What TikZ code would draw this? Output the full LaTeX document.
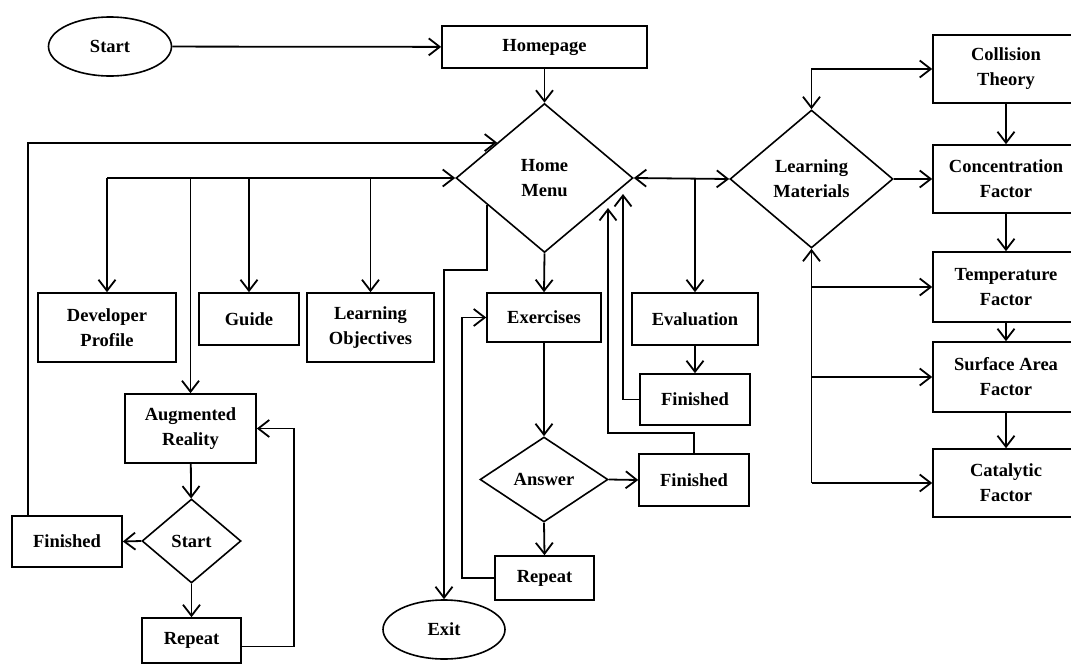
\documentclass[tikz,border=0pt]{standalone}
\usepackage{fontspec}
\setmainfont{Liberation Serif}
\usetikzlibrary{shapes.geometric,arrows.meta,calc}
\begin{document}
\begin{tikzpicture}[x=1pt,y=-1pt,
  every node/.style={font=\fontsize{18.5}{25}\selectfont\bfseries, align=center, inner sep=0pt},
  shp/.style={draw, line width=1.6pt},
  box/.style={shp, rectangle},
  dia/.style={shp, diamond},
  oval/.style={shp, ellipse},
  conn/.style={line width=1.8pt},
  arr/.style={conn, -{Straight Barb[length=11pt,width=17pt]}},
  biarr/.style={conn, {Straight Barb[length=11pt,width=17pt]}-{Straight Barb[length=11pt,width=17pt]}}
]
\clip (0,0) rectangle (1071,664);
\fill[white] (0,0) rectangle (1071,664);

% nodes
\node[oval, minimum width=123, minimum height=59] (st) at (110,46.5) {Start};
\node[box, minimum width=205, minimum height=42] (hp) at (544.5,47) {Homepage};
\node[dia, minimum width=177, minimum height=149] (hm) at (544.5,178) {Home\\Menu};
\node[dia, minimum width=163, minimum height=138] (lm) at (811.5,179) {Learning\\Materials};
\node[box, minimum width=138, minimum height=69] (dp) at (107,327.5) {Developer\\Profile};
\node[box, minimum width=100, minimum height=52] (gd) at (249,319) {Guide};
\node[box, minimum width=127, minimum height=69] (lo) at (370.5,327.5) {Learning\\Objectives};
\node[box, minimum width=131, minimum height=69] (ar) at (190.5,428.5) {Augmented\\Reality};
\node[dia, minimum width=99, minimum height=84] (sd) at (191.5,541) {Start};
\node[box, minimum width=110, minimum height=51] (f1) at (67,541.5) {Finished};
\node[box, minimum width=99, minimum height=45] (r1) at (191.5,640.5) {Repeat};
\node[oval, minimum width=122, minimum height=59] (exit) at (444,629.5) {Exit};
\node[box, minimum width=114, minimum height=49] (ex) at (544,317.5) {Exercises};
\node[dia, minimum width=128, minimum height=85] (an) at (544,479.5) {Answer};
\node[box, minimum width=99, minimum height=44] (r2) at (544.5,578) {Repeat};
\node[box, minimum width=110, minimum height=52] (f3) at (694,480) {Finished};
\node[box, minimum width=126, minimum height=52] (ev) at (695,319) {Evaluation};
\node[box, minimum width=110, minimum height=51] (f2) at (695,399.5) {Finished};
\node[box, minimum width=146, minimum height=68] (ct) at (1006,69) {Collision\\Theory};
\node[box, minimum width=146, minimum height=68] (cf) at (1006,179) {Concentration\\Factor};
\node[box, minimum width=146, minimum height=70] (tf) at (1006,287) {Temperature\\Factor};
\node[box, minimum width=146, minimum height=70] (sf) at (1006,377) {Surface Area\\Factor};
\node[box, minimum width=146, minimum height=68] (caf) at (1006,483) {Catalytic\\Factor};

% helper coordinates
\coordinate (hmp) at ($(hm.west)!0.47!(hm.north)$);
\coordinate (hmx) at ($(hm.west)!0.36!(hm.south)$);
\coordinate (hmin1) at (608,208);
\coordinate (hmin2) at (623,194);
\coordinate (f1up) at ($(f1.north west)+(17,0)$);
\coordinate (r1e) at ($(r1.east)+(0,6)$);

% connectors
\draw[arr] (st) -- (hp);
\draw[arr] (hp) -- (hm);
\draw[arr] (dp.north |- hm.west) -- (hm.west);
\draw[arr] (dp.north |- hm.west) -- (dp.north);
\draw[arr] (ar.north |- hm.west) -- (ar.north);
\draw[arr] (gd.north |- hm.west) -- (gd.north);
\draw[arr] (lo.north |- hm.west) -- (lo.north);
\draw[arr] (f1up) |- (hmp);
\draw[arr] (ar) -- (sd);
\draw[arr] (sd.west) -- (f1.east);
\draw[arr] (sd.south) -- (r1.north);
\draw[arr] (r1e) -- ++(52,0) |- (ar.east);
\draw[arr] (hmx) -- ++(0,65) -| (exit.north);
\draw[arr] (hm.south) -- (ex.north);
\draw[arr] (ex.south) -- (an.north);
\draw[arr] (an.east) -- (f3.west);
\draw[arr] (an.south) -- (r2.north);
\draw[arr] (r2.west) -- ++(-32,0) |- (ex.west);
\draw[arr] (f3.north) -- ++(0,-20) -| (hmin1);
\draw[arr] (f2.west) -| (hmin2);
\draw[arr] (ev.south) -- (f2.north);
\draw[biarr] (hm.east) -- (lm.west);
\draw[arr] (ev.north |- hm.east) -- (ev.north);
\draw[biarr] (lm.north) |- (ct.west);
\draw[arr] (lm.east) -- (cf.west);
\draw[arr] (ct) -- (cf);
\draw[arr] (cf) -- (tf);
\draw[arr] (tf) -- (sf);
\draw[arr] (sf) -- (caf);
\draw[arr] (lm.south |- caf.west) -- (lm.south);
\draw[arr] (lm.south |- tf.west) -- (tf.west);
\draw[arr] (lm.south |- sf.west) -- (sf.west);
\draw[arr] (lm.south |- caf.west) -- (caf.west);
\end{tikzpicture}
\end{document}
